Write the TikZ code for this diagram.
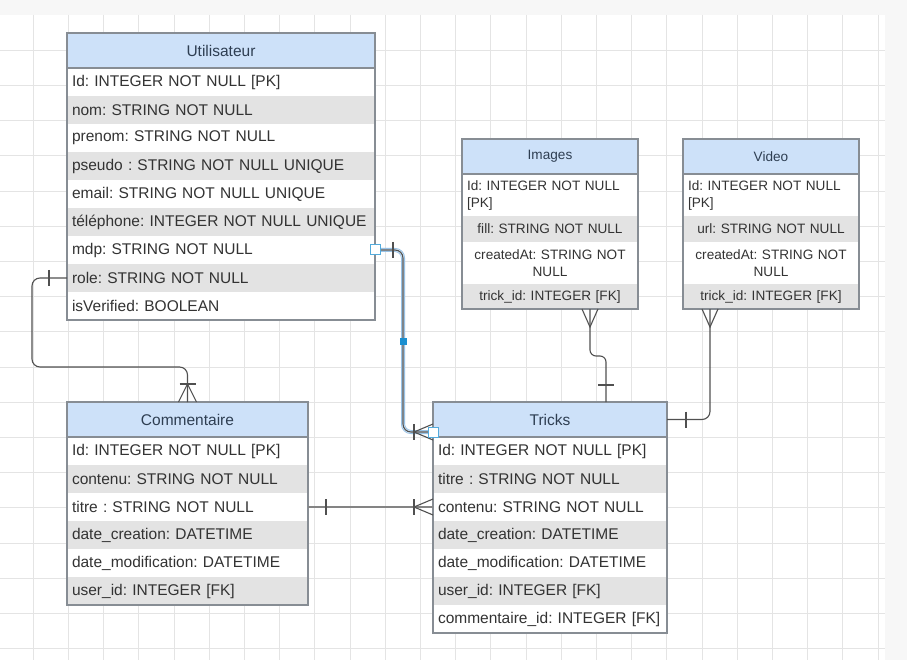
\documentclass[tikz,border=0pt]{standalone}
\usepackage{fontspec}
\setmainfont{Liberation Sans}
\usetikzlibrary{positioning}
\definecolor{kopfblau}{HTML}{CDE1F9}
\definecolor{zeilgrau}{HTML}{E3E3E3}
\definecolor{rahmgrau}{HTML}{878D94}
\definecolor{linie}{HTML}{505050}
\definecolor{textgrau}{HTML}{333333}
\definecolor{titel}{HTML}{2E3E52}
\definecolor{gitter}{HTML}{E4E4E4}
\definecolor{wahlblau}{HTML}{8FBDE4}
\definecolor{wahlhell}{HTML}{D8E9F8}
\definecolor{griff}{HTML}{1A8FD0}
\frenchspacing

\def\gross{\fontsize{15.5}{18}\selectfont}
\def\klein{\fontsize{13.6}{17}\selectfont}
\def\senk#1{
	\draw[verb] #1 ++(0,-8) -- ++(0,16);
}
\def\waag#1{
	\draw[verb] #1 ++(-8,0) -- ++(16,0);
}
\def\fuss#1#2#3{
	\draw[verb] #2 -- #1 -- #3;
}

\begin{document}
\begin{tikzpicture}[x=1pt,y=-1pt,
	kopf/.style={breite,fill=kopfblau,text=titel,font=\gross,minimum height=35pt,
		inner xsep=5pt,inner ysep=0pt,outer sep=0pt,align=center},
	zeile/.style={breite,fill=white,text=textgrau,font=\gross,minimum height=28pt,
		inner xsep=5pt,inner ysep=0pt,outer sep=0pt,align=left},
	zeileg/.style={zeile,fill=zeilgrau},
	kopfk/.style={kopf,font=\klein},
	zeilek/.style={zeile,font=\klein,align=center},
	zeilekg/.style={zeilek,fill=zeilgrau},
	rahmen/.style={draw=rahmgrau,line width=1.1pt},
	verb/.style={draw=linie,line width=1.1pt},
	wahl/.style={draw=wahlblau,double=wahlhell,double distance=2.4pt,line width=0.8pt},
	griffleer/.style={draw=griff!75,fill=white,line width=1pt,minimum size=10pt,inner sep=0pt},
	griffvoll/.style={fill=griff,minimum size=7pt,inner sep=0pt}]
\useasboundingbox (0,0) rectangle (907,660);
\fill[white!97!black] (0,0) rectangle (907,660);
\fill[white] (0,15) rectangle (885,660);
\foreach \i in {0,...,24}
	\draw[gitter] ({33+35.2*\i},15) -- ({33+35.2*\i},660);
\foreach \j in {0,...,17}
	\draw[gitter] (0,{50+35.2*\j}) -- (885,{50+35.2*\j});

% Utilisateur
\begin{scope}[breite/.style={text width=298pt}]
\node[kopf] (u) at (221,50.5) {Utilisateur};
\node[zeile,below=0pt of u] (u1) {Id: INTEGER NOT NULL [PK]};
\node[zeileg,below=0pt of u1] (u2) {nom: STRING NOT NULL};
\node[zeile,below=0pt of u2] (u3) {prenom: STRING NOT NULL};
\node[zeileg,below=0pt of u3] (u4) {pseudo : STRING NOT NULL UNIQUE};
\node[zeile,below=0pt of u4] (u5) {email: STRING NOT NULL UNIQUE};
\node[zeileg,below=0pt of u5] (u6) {téléphone: INTEGER NOT NULL UNIQUE};
\node[zeile,below=0pt of u6] (u7) {mdp: STRING NOT NULL};
\node[zeileg,below=0pt of u7] (u8) {role: STRING NOT NULL};
\node[zeile,below=0pt of u8] (u9) {isVerified: BOOLEAN};
\draw[rahmen] (u.north west) rectangle (u9.south east);
\draw[rahmen] (u.south west) -- (u.south east);
\end{scope}

% Commentaire
\begin{scope}[breite/.style={text width=231pt}]
\node[kopf] (c) at (187.5,419.5) {Commentaire};
\node[zeile,below=0pt of c] (c1) {Id: INTEGER NOT NULL [PK]};
\node[zeileg,below=0pt of c1] (c2) {contenu: STRING NOT NULL};
\node[zeile,below=0pt of c2] (c3) {titre : STRING NOT NULL};
\node[zeileg,below=0pt of c3] (c4) {date\_creation: DATETIME};
\node[zeile,below=0pt of c4] (c5) {date\_modification: DATETIME};
\node[zeileg,below=0pt of c5] (c6) {user\_id: INTEGER [FK]};
\draw[rahmen] (c.north west) rectangle (c6.south east);
\draw[rahmen] (c.south west) -- (c.south east);
\end{scope}

% Tricks
\begin{scope}[breite/.style={text width=224pt}]
\node[kopf] (t) at (550,419.5) {Tricks};
\node[zeile,below=0pt of t] (t1) {Id: INTEGER NOT NULL [PK]};
\node[zeileg,below=0pt of t1] (t2) {titre : STRING NOT NULL};
\node[zeile,below=0pt of t2] (t3) {contenu: STRING NOT NULL};
\node[zeileg,below=0pt of t3] (t4) {date\_creation: DATETIME};
\node[zeile,below=0pt of t4] (t5) {date\_modification: DATETIME};
\node[zeileg,below=0pt of t5] (t6) {user\_id: INTEGER [FK]};
\node[zeile,below=0pt of t6] (t7) {commentaire\_id: INTEGER [FK]};
\draw[rahmen] (t.north west) rectangle (t7.south east);
\draw[rahmen] (t.south west) -- (t.south east);
\end{scope}

% Images, Video
\begin{scope}[breite/.style={text width=166pt}]
\node[kopfk] (i) at (550,156.5) {Images};
\node[zeilek,align=left,minimum height=42pt,below=0pt of i] (i1) {Id: INTEGER NOT NULL\\{[PK]}};
\node[zeilekg,minimum height=26pt,below=0pt of i1] (i2) {fill: STRING NOT NULL};
\node[zeilek,minimum height=42pt,below=0pt of i2] (i3) {createdAt: STRING NOT\\NULL};
\node[zeilekg,minimum height=25pt,below=0pt of i3] (i4) {trick\_id: INTEGER [FK]};
\draw[rahmen] (i.north west) rectangle (i4.south east);
\draw[rahmen] (i.south west) -- (i.south east);
\node[kopfk] (v) at (771,156.5) {Video};
\node[zeilek,align=left,minimum height=42pt,below=0pt of v] (v1) {Id: INTEGER NOT NULL\\{[PK]}};
\node[zeilekg,minimum height=26pt,below=0pt of v1] (v2) {url: STRING NOT NULL};
\node[zeilek,minimum height=42pt,below=0pt of v2] (v3) {createdAt: STRING NOT\\NULL};
\node[zeilekg,minimum height=25pt,below=0pt of v3] (v4) {trick\_id: INTEGER [FK]};
\draw[rahmen] (v.north west) rectangle (v4.south east);
\draw[rahmen] (v.south west) -- (v.south east);
\end{scope}

% Verbindungen
\draw[verb,rounded corners=8pt] (u8.west) -- ++(-35,0) -- ++(0,89) -| (c.north);
\senk{([xshift=-18pt]u8.west)}
\waag{([yshift=18pt]c.north)}
\fuss{([yshift=18pt]c.north)}{([xshift=-9pt]c.north)}{([xshift=9pt]c.north)}

\draw[wahl,rounded corners=8pt] (u7.east) -- ++(28,0) |- ([yshift=5pt]t.south west);
\draw[verb,rounded corners=8pt] (u7.east) -- ++(28,0) |- ([yshift=5pt]t.south west);
\senk{([xshift=18pt]u7.east)}
\senk{([xshift=-19pt,yshift=5pt]t.south west)}
\fuss{([xshift=-19pt,yshift=5pt]t.south west)}{([yshift=13pt]t.south west)}{([yshift=-3pt]t.south west)}
\node[griffleer] (ga) at (u7.east) {};
\node[griffleer] (gb) at ([yshift=5pt]t.south west) {};
\node[griffvoll] (gm) at (403,341) {};

\draw[verb,rounded corners=6pt] ([xshift=40pt]i4.south) -- ++(0,47) -| ([xshift=56pt]t.north);
\fuss{([xshift=40pt,yshift=-18pt]i4.south)}{([xshift=32pt]i4.south)}{([xshift=48pt]i4.south)}
\waag{([xshift=56pt,yshift=17pt]t.north)}

\draw[verb,rounded corners=8pt] ([xshift=-61pt]v4.south) |- (t.east);
\fuss{([xshift=-61pt,yshift=-18pt]v4.south)}{([xshift=-69pt]v4.south)}{([xshift=-53pt]v4.south)}
\senk{([xshift=19pt]t.east)}

\draw[verb,draw=linie!70] (c3.east) -- (t3.west);
\senk{([xshift=18pt]c3.east)}
\senk{([xshift=-19pt]t3.west)}
\fuss{([xshift=-19pt]t3.west)}{([yshift=8pt]t3.west)}{([yshift=-8pt]t3.west)}
\end{tikzpicture}
\end{document}
